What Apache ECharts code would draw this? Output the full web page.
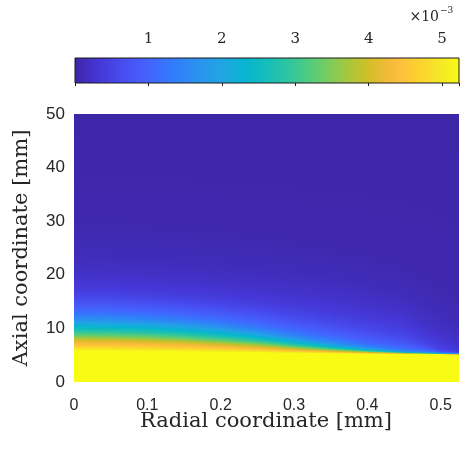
<!DOCTYPE html>
<html>
<head>
<meta charset="utf-8">
<script src="https://cdn.jsdelivr.net/npm/echarts@6/dist/echarts.min.js"></script>
<style>
  html, body { margin: 0; padding: 0; background: #fff; }
  #chart { width: 462px; height: 449px; }
</style>
</head>
<body>
<div id="chart"></div>
<script>
// radial positions (mm) of the sampled columns
var radialCols = [0, 0.05, 0.1, 0.15, 0.2, 0.25, 0.3, 0.35, 0.4, 0.45, 0.5, 0.525];
// field levels (x1e-3), from the saturated yellow core up to the background
var levelValues = [5.2, 4.6, 4.0, 3.4, 2.8, 2.2, 1.6, 1.2, 0.9, 0.6, 0.4, 0.25, 0.12, 0.05, 0];
// axial height (mm) where each level is crossed, one row per level, one entry per column
var levelHeights = [
  [5.8, 5.78, 5.72, 5.65, 5.57, 5.5, 5.42, 5.35, 5.3, 5.25, 5.2, 5.15],
  [6.7, 6.65, 6.55, 6.4, 6.2, 6.0, 5.75, 5.55, 5.4, 5.3, 5.22, 5.17],
  [7.8, 7.75, 7.6, 7.35, 7.0, 6.6, 6.15, 5.8, 5.55, 5.38, 5.26, 5.2],
  [8.6, 8.55, 8.35, 8.05, 7.65, 7.15, 6.55, 6.05, 5.7, 5.45, 5.3, 5.24],
  [9.5, 9.45, 9.25, 8.9, 8.4, 7.8, 7.0, 6.35, 5.85, 5.52, 5.34, 5.28],
  [10.6, 10.5, 10.3, 9.9, 9.3, 8.55, 7.6, 6.75, 6.05, 5.6, 5.38, 5.32],
  [11.8, 11.7, 11.45, 11.05, 10.4, 9.5, 8.4, 7.4, 6.45, 5.8, 5.45, 5.36],
  [12.9, 12.8, 12.5, 12.05, 11.4, 10.5, 9.3, 8.2, 7.0, 6.15, 5.55, 5.4],
  [14.1, 14.0, 13.7, 13.2, 12.6, 11.7, 10.5, 9.3, 8.0, 6.9, 5.65, 5.45],
  [15.8, 15.6, 15.3, 14.8, 14.2, 13.4, 12.3, 11.1, 9.7, 8.3, 5.9, 5.55],
  [17.4, 17.2, 16.9, 16.4, 15.8, 15.1, 14.2, 13.1, 11.8, 10.3, 6.8, 5.75],
  [19.8, 19.6, 19.3, 18.8, 18.2, 17.5, 16.7, 15.8, 14.5, 12.8, 9.0, 7.0],
  [24, 23.8, 23.5, 23, 22.4, 21.8, 21, 20, 18.6, 16.8, 13.0, 10.5],
  [30, 29.8, 29.5, 29, 28.3, 27.5, 26.5, 25.5, 24, 22, 18, 15],
  [50, 50, 50, 50, 50, 50, 50, 50, 50, 50, 50, 50]
];
var xTicks = [0, 0.1, 0.2, 0.3, 0.4, 0.5];
var yTicks = [0, 10, 20, 30, 40, 50];
var colorbarTicks = [1, 2, 3, 4, 5];
var colorMax = 5.23;
var zTop = 50;

// parula colour map (index out of 63, r, g, b)
var PARULA = [
  [0, 62, 38, 168], [4, 69, 55, 213], [8, 72, 77, 240], [12, 69, 99, 253],
  [16, 50, 124, 252], [20, 43, 145, 239], [24, 32, 165, 227], [28, 8, 181, 208],
  [32, 25, 191, 182], [36, 55, 200, 151], [40, 100, 205, 111], [44, 157, 201, 67],
  [48, 209, 191, 39], [52, 248, 186, 61], [53, 254, 190, 60], [56, 252, 207, 48],
  [60, 245, 233, 36], [63, 249, 251, 21]
];
var SHADE_STEPS = 10;
var TEXT_COLOR = '#262626';
var SERIF = 'DejaVu Serif';
var SANS = 'Liberation Sans';

function colorAt(v) {
  var t = Math.max(0, Math.min(1, v / colorMax)) * 63;
  for (var i = 1; i < PARULA.length; i++) {
    if (t <= PARULA[i][0]) {
      var a = PARULA[i - 1], b = PARULA[i];
      var f = (t - a[0]) / (b[0] - a[0]);
      return 'rgb(' + Math.round(a[1] + (b[1] - a[1]) * f) + ',' +
        Math.round(a[2] + (b[2] - a[2]) * f) + ',' +
        Math.round(a[3] + (b[3] - a[3]) * f) + ')';
    }
  }
  var last = PARULA[PARULA.length - 1];
  return 'rgb(' + last[1] + ',' + last[2] + ',' + last[3] + ')';
}

function isTick(list, v) {
  return list.some(function (t) { return Math.abs(t - v) < 1e-6; });
}

// one item per band between two levels, drawn bottom up; each layer
// reaches to the top of the plot so the next one simply covers it
var bandData = [];
for (var b = 0; b < levelValues.length; b++) {
  bandData.push([b]);
}

function layer(api, b, f, color) {
  var pts = radialCols.map(function (r, c) {
    var lo = b === 0 ? 0 : levelHeights[b - 1][c];
    var hi = levelHeights[b][c];
    return api.coord([r, lo + (hi - lo) * f]);
  });
  pts.push(api.coord([radialCols[radialCols.length - 1], zTop]));
  pts.push(api.coord([radialCols[0], zTop]));
  return { type: 'polygon', shape: { points: pts }, style: { fill: color } };
}

function renderBand(params, api) {
  var b = api.value(0);
  if (b === 0) {
    return layer(api, 0, 0, colorAt(colorMax));
  }
  var vLo = levelValues[b - 1];
  var vHi = levelValues[b];
  var children = [];
  for (var s = 0; s < SHADE_STEPS; s++) {
    var f = s / SHADE_STEPS;
    children.push(layer(api, b, f, colorAt(vLo + (vHi - vLo) * (s + 0.5) / SHADE_STEPS)));
  }
  return { type: 'group', children: children };
}

function renderColorbar(params, api) {
  var a = api.coord([0, 0]), z = api.coord([colorMax, 1]);
  var stops = PARULA.map(function (p) {
    return { offset: p[0] / 63, color: 'rgb(' + p[1] + ',' + p[2] + ',' + p[3] + ')' };
  });
  return {
    type: 'rect',
    shape: { x: a[0], y: z[1], width: z[0] - a[0], height: a[1] - z[1] },
    style: {
      fill: new echarts.graphic.LinearGradient(0, 0, 1, 0, stops),
      stroke: '#1a1a1a',
      lineWidth: 1
    }
  };
}

var chart = echarts.init(document.getElementById('chart'), null, { renderer: 'canvas' });

chart.setOption({
  animation: false,
  backgroundColor: '#fff',
  grid: [
    { left: 74, top: 114, width: 385, height: 268 },
    { left: 75, top: 58, width: 384, height: 25 }
  ],
  xAxis: [
    {
      gridIndex: 0,
      type: 'value',
      min: 0,
      max: 0.525,
      interval: 0.1,
      axisLine: { show: false },
      axisTick: { show: false },
      splitLine: { show: false },
      axisLabel: {
        margin: 16,
        color: TEXT_COLOR,
        fontFamily: SANS,
        fontSize: 16,
        formatter: function (v) {
          if (!isTick(xTicks, v)) return '';
          return v === 0 ? '0' : v.toFixed(1);
        }
      }
    },
    {
      gridIndex: 1,
      type: 'value',
      position: 'top',
      min: 0,
      max: colorMax,
      interval: 1,
      z: 5,
      axisLine: { show: false },
      axisTick: { show: true, inside: true, length: 3, lineStyle: { color: '#1a1a1a', width: 1 } },
      splitLine: { show: false },
      axisLabel: {
        margin: 11,
        color: TEXT_COLOR,
        fontFamily: SERIF,
        fontSize: 15,
        formatter: function (v) {
          return isTick(colorbarTicks, v) ? String(v) : '';
        }
      }
    }
  ],
  yAxis: [
    {
      gridIndex: 0,
      type: 'value',
      min: 0,
      max: zTop,
      interval: 10,
      axisLine: { show: false },
      axisTick: { show: false },
      splitLine: { show: false },
      axisLabel: {
        margin: 9,
        padding: [7, 0, 0, 0],
        color: TEXT_COLOR,
        fontFamily: SANS,
        fontSize: 17,
        formatter: function (v) {
          return isTick(yTicks, v) ? String(v) : '';
        }
      }
    },
    {
      gridIndex: 1,
      type: 'value',
      min: 0,
      max: 1,
      show: false
    }
  ],
  series: [
    {
      type: 'custom',
      xAxisIndex: 0,
      yAxisIndex: 0,
      clip: true,
      renderItem: renderBand,
      data: bandData
    },
    {
      type: 'custom',
      xAxisIndex: 1,
      yAxisIndex: 1,
      renderItem: renderColorbar,
      data: [[0, 0]]
    }
  ],
  graphic: [
    {
      type: 'text',
      x: 266,
      y: 422,
      style: {
        text: 'Radial coordinate [mm]',
        font: '21px "' + SERIF + '"',
        fill: TEXT_COLOR,
        align: 'center',
        verticalAlign: 'middle'
      }
    },
    {
      type: 'text',
      x: 22,
      y: 248,
      rotation: Math.PI / 2,
      style: {
        text: 'Axial coordinate [mm]',
        font: '21px "' + SERIF + '"',
        fill: TEXT_COLOR,
        align: 'center',
        verticalAlign: 'middle'
      }
    },
    {
      type: 'text',
      x: 439,
      y: 17,
      style: {
        text: '\u00d710',
        font: '14px "' + SERIF + '"',
        fill: TEXT_COLOR,
        align: 'right',
        verticalAlign: 'middle'
      }
    },
    {
      type: 'text',
      x: 440,
      y: 11,
      style: {
        text: '\u22123',
        font: '9px "' + SERIF + '"',
        fill: TEXT_COLOR,
        align: 'left',
        verticalAlign: 'middle'
      }
    }
  ]
});
</script>
</body>
</html>
